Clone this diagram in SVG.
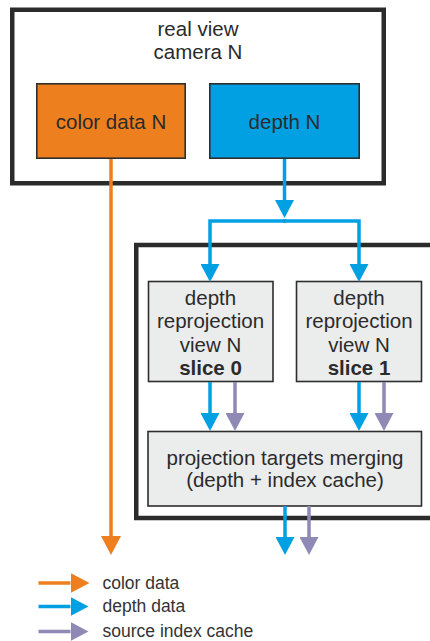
<svg xmlns="http://www.w3.org/2000/svg" width="430" height="641" viewBox="0 0 430 641">
<style>
.frame{fill:#fff;stroke:#2b2b2b;stroke-width:4.5}
.box{stroke:#2e2e2e;stroke-width:1.6}
.gray{fill:#ebecec}
.t{font-family:"Liberation Sans",Arial,sans-serif;font-size:20.5px;fill:#2b2b2b;text-anchor:middle}
.b{font-weight:bold}
.lg{font-family:"Liberation Sans",Arial,sans-serif;font-size:17.5px;fill:#333}
.c{fill:none;stroke-width:3.5}
.or{stroke:#ee7f1e}
.bl{stroke:#00a0e3}
.pu{stroke:#8f89b5}
</style>
<defs>
<marker id="ao" markerUnits="userSpaceOnUse" markerWidth="19" markerHeight="20" refX="0" refY="10" orient="auto" viewBox="0 0 19 20"><path d="M0,0 L19,10 L0,20 z" fill="#ee7f1e"/></marker>
<marker id="ab" markerUnits="userSpaceOnUse" markerWidth="18" markerHeight="19" refX="0" refY="9.5" orient="auto" viewBox="0 0 18 19"><path d="M0,0 L18,9.5 L0,19 z" fill="#00a0e3"/></marker>
<marker id="ap" markerUnits="userSpaceOnUse" markerWidth="18" markerHeight="19" refX="0" refY="9.5" orient="auto" viewBox="0 0 18 19"><path d="M0,0 L18,9.5 L0,19 z" fill="#8f89b5"/></marker>
</defs>
<rect width="430" height="641" fill="#fff"/>
<g id="camera">
<rect class="frame" x="12.25" y="9.75" width="371.5" height="173.5"/>
<text class="t" x="198" y="36">real view</text>
<text class="t" x="198" y="59">camera N</text>
</g>
<g id="reprojection-group">
<rect class="frame" x="136.25" y="245" width="310" height="273"/>
</g>
<g id="color-data">
<rect class="box" x="36.8" y="83.8" width="148.4" height="74.4" fill="#ee7f1e"/>
<text class="t" x="111" y="129">color data N</text>
</g>
<g id="depth">
<rect class="box" x="209.8" y="83.8" width="149.4" height="74.4" fill="#00a0e3"/>
<text class="t" x="284.5" y="129">depth N</text>
</g>
<g id="slice0">
<rect class="box gray" x="148.5" y="281.5" width="124.5" height="100"/>
<text class="t" x="210.5" y="305">depth</text>
<text class="t" x="210.5" y="328">reprojection</text>
<text class="t" x="210.5" y="351.5">view N</text>
<text class="t b" x="210.5" y="374.5">slice 0</text>
</g>
<g id="slice1">
<rect class="box gray" x="296.5" y="281.5" width="125" height="100"/>
<text class="t" x="359" y="305">depth</text>
<text class="t" x="359" y="328">reprojection</text>
<text class="t" x="359" y="351.5">view N</text>
<text class="t b" x="359" y="374.5">slice 1</text>
</g>
<g id="merge">
<rect class="box gray" x="148" y="431.5" width="273.5" height="74.5"/>
<text class="t" x="285" y="465">projection targets merging</text>
<text class="t" x="285" y="487">(depth + index cache)</text>
</g>
<g id="connectors">
<path class="c or" d="M111,159 V536" marker-end="url(#ao)"/>
<path class="c bl" d="M284.5,159 V200" marker-end="url(#ab)"/>
<path class="c bl" d="M286,221 H210 V264" marker-end="url(#ab)"/>
<path class="c bl" d="M283,221 H359 V264" marker-end="url(#ab)"/>
<path class="c bl" d="M210,382 V413" marker-end="url(#ab)"/>
<path class="c pu" d="M235,382 V413" marker-end="url(#ap)"/>
<path class="c bl" d="M359,382 V413" marker-end="url(#ab)"/>
<path class="c pu" d="M384,382 V413" marker-end="url(#ap)"/>
<path class="c bl" d="M285,506 V537" marker-end="url(#ab)"/>
<path class="c pu" d="M309,506 V537" marker-end="url(#ap)"/>
</g>
<g id="legend">
<path class="c or" d="M38.5,583 H70.5" marker-end="url(#ao)"/>
<path class="c bl" d="M38.5,606.5 H70.5" marker-end="url(#ab)"/>
<path class="c pu" d="M38.5,631.5 H70.5" marker-end="url(#ap)"/>
<text class="lg" x="102.5" y="588.5">color data</text>
<text class="lg" x="102.5" y="612">depth data</text>
<text class="lg" x="102.5" y="636.5">source index cache</text>
</g>
</svg>
